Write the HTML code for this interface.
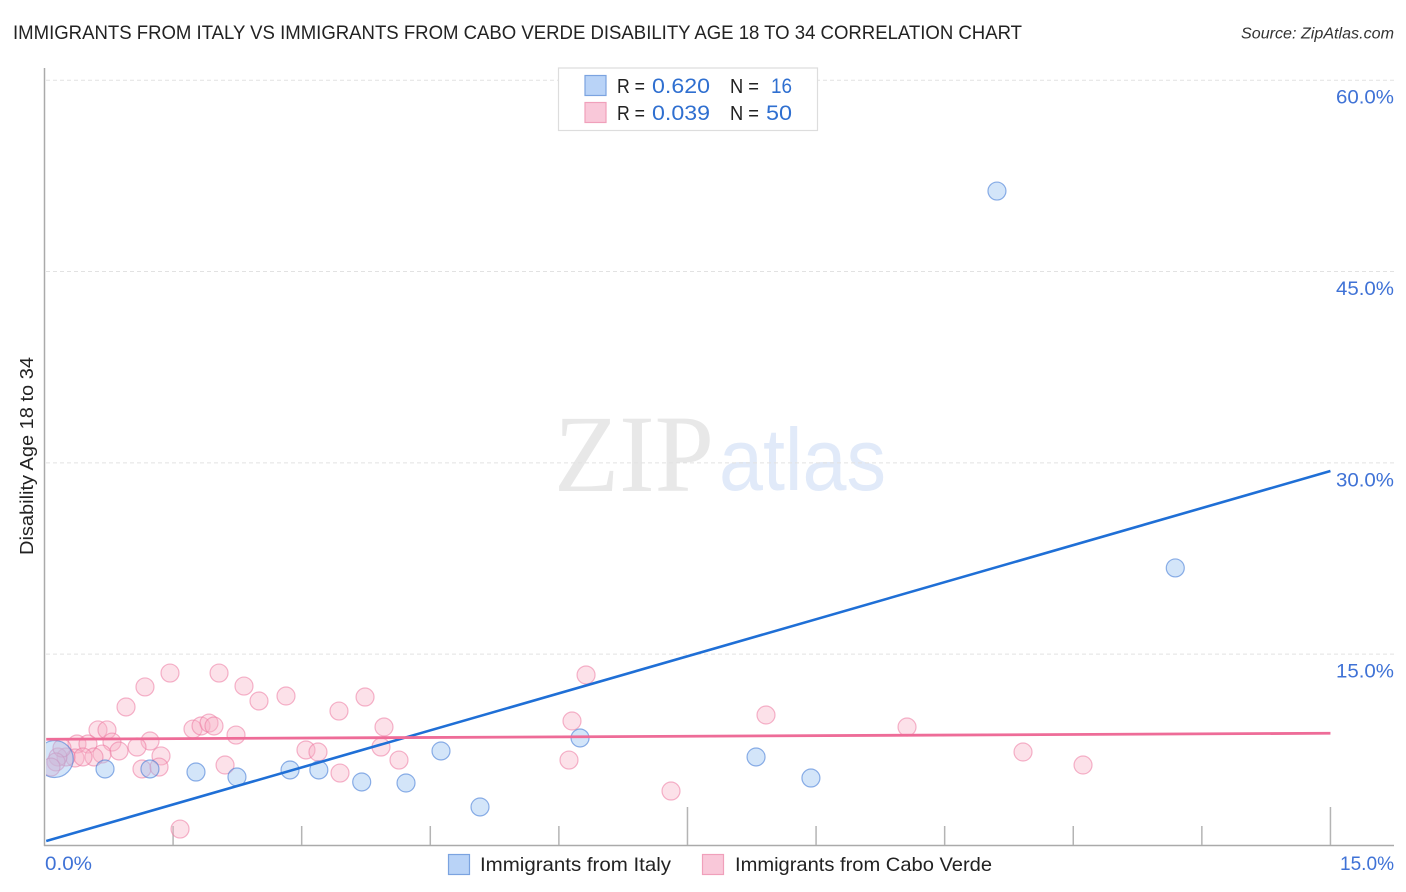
<!DOCTYPE html>
<html lang="en">
<head>
<meta charset="utf-8">
<title>Immigrants from Italy vs Immigrants from Cabo Verde Disability Age 18 to 34 Correlation Chart</title>
<style>
html,body{margin:0;padding:0;background:#fff;}
svg{display:block;font-family:"Liberation Sans",sans-serif;}
</style>
</head>
<body>
<svg id="chart" xmlns="http://www.w3.org/2000/svg" width="1406" height="892" viewBox="0 0 1406 892">
  <defs>
    <clipPath id="plot-clip"><rect x="46" y="60" width="1350" height="785"/></clipPath>
  </defs>
  <rect width="1406" height="892" fill="#fff"/>
  <g>
    <text x="554" y="491" font-family="'Liberation Serif',serif" font-size="110" fill="#e8e8e8" textLength="160" lengthAdjust="spacingAndGlyphs">ZIP</text>
    <text x="719" y="490" font-size="88" fill="#e1eaf9" textLength="167" lengthAdjust="spacingAndGlyphs">atlas</text>
  </g>
  <g id="grid"></g>
  <g id="axes">
    <line x1="44.5" y1="68" x2="44.5" y2="846" stroke="#aaaaaa" stroke-width="1.5"/>
    <line x1="44" y1="845.5" x2="1394" y2="845.5" stroke="#aaaaaa" stroke-width="1.5"/>
  </g>
  <g id="xticks"></g>
  <g id="ylabels"></g>
  <g id="xlabels"></g>
  <g id="pink-dots" clip-path="url(#plot-clip)"></g>
  <g id="blue-dots" clip-path="url(#plot-clip)"></g>
  <g id="trends" clip-path="url(#plot-clip)"></g>

  <text x="13" y="39" font-size="19" fill="#222" textLength="1009" lengthAdjust="spacingAndGlyphs">IMMIGRANTS FROM ITALY VS IMMIGRANTS FROM CABO VERDE DISABILITY AGE 18 TO 34 CORRELATION CHART</text>
  <text x="1241" y="38.5" font-size="15.5" font-style="italic" fill="#333" textLength="153" lengthAdjust="spacingAndGlyphs">Source: ZipAtlas.com</text>
  <text transform="translate(33,555) rotate(-90)" font-size="18.5" fill="#222" textLength="198" lengthAdjust="spacingAndGlyphs">Disability Age 18 to 34</text>

  <g>
    <rect x="558.5" y="68" width="259" height="62.5" fill="#fff" stroke="#dddddd" stroke-width="1.2"/>
    <rect x="585" y="75.5" width="21" height="20" fill="#b9d3f7" stroke="#7ba3e0" stroke-width="1.2"/>
    <rect x="585" y="102.5" width="21" height="20" fill="#f9c8d9" stroke="#f0a0bb" stroke-width="1.2"/>
    <text x="617" y="93" font-size="20" fill="#222" textLength="28" lengthAdjust="spacingAndGlyphs">R =</text>
    <text x="652" y="93" font-size="21" fill="#2f6fd0" textLength="58" lengthAdjust="spacingAndGlyphs">0.620</text>
    <text x="730" y="93" font-size="20" fill="#222" textLength="29" lengthAdjust="spacingAndGlyphs">N =</text>
    <text x="771" y="93" font-size="21" fill="#2f6fd0" textLength="21" lengthAdjust="spacingAndGlyphs">16</text>
    <text x="617" y="120" font-size="20" fill="#222" textLength="28" lengthAdjust="spacingAndGlyphs">R =</text>
    <text x="652" y="120" font-size="21" fill="#2f6fd0" textLength="58" lengthAdjust="spacingAndGlyphs">0.039</text>
    <text x="730" y="120" font-size="20" fill="#222" textLength="29" lengthAdjust="spacingAndGlyphs">N =</text>
    <text x="766" y="120" font-size="21" fill="#2f6fd0" textLength="26" lengthAdjust="spacingAndGlyphs">50</text>
  </g>

  <g>
    <g>
      <rect x="448.5" y="854.5" width="21" height="20" fill="#b9d3f7" stroke="#7ba3e0" stroke-width="1.2"/>
      <text x="480" y="871" font-size="19.5" fill="#222" textLength="191" lengthAdjust="spacingAndGlyphs">Immigrants from Italy</text>
    </g>
    <g>
      <rect x="702.5" y="854.5" width="21" height="20" fill="#f9c8d9" stroke="#f0a0bb" stroke-width="1.2"/>
      <text x="735" y="871" font-size="19.5" fill="#222" textLength="257" lengthAdjust="spacingAndGlyphs">Immigrants from Cabo Verde</text>
    </g>
  </g>
</svg>
<script>
// Chart data (percent values)
const yTickValues = [15, 30, 45, 60];
const xTickValues = [1.5, 3, 4.5, 6, 7.5, 9, 10.5, 12, 13.5, 15];
const xMajorTicks = [7.5, 15];
const xEndLabels = [0, 15];

const italyX = [11.11, 13.19, 0.706, 1.23, 1.767, 2.245, 2.864, 3.20, 3.70, 4.217, 4.625, 5.08, 6.247, 8.30, 8.94, 0.12];
const italyY = [51.31, 21.76, 6.00, 6.00, 5.76, 5.37, 5.92, 5.92, 4.98, 4.90, 7.41, 3.02, 8.43, 6.94, 5.29, 6.78];
const italyWeight = [1, 1, 1, 1, 1, 1, 1, 1, 1, 1, 1, 1, 1, 1, 1, 4.2];

const caboVerdeX = [1.464, 2.036, 1.172, 2.327, 2.502, 2.817, 0.951, 3.435, 3.739, 3.960, 3.925, 4.135, 6.317, 6.153, 6.118, 7.308, 0.624, 0.729, 1.732, 1.826, 1.919, 1.977, 2.234, 1.231, 0.787, 0.379, 0.507, 1.079, 0.869, 0.671, 3.050, 3.190, 1.359, 0.577, 0.356, 0.449, 0.251, 0.157, 0.204, 0.134, 0.076, 1.137, 1.336, 2.106, 3.447, 1.581, 8.416, 10.061, 11.414, 12.114];
const caboVerdeY = [13.52, 13.52, 12.43, 12.50, 11.33, 11.72, 10.86, 10.54, 11.64, 9.29, 7.72, 6.70, 13.37, 9.76, 6.70, 4.27, 9.06, 9.06, 9.13, 9.37, 9.60, 9.37, 8.66, 8.19, 8.11, 7.96, 7.96, 7.72, 7.41, 7.17, 7.49, 7.33, 7.02, 6.94, 6.86, 6.94, 6.94, 6.94, 7.64, 6.55, 6.15, 6.00, 6.15, 6.31, 5.68, 1.29, 10.23, 9.29, 7.33, 6.31];

const trendX = [0.02, 15];
const italyTrendY = [0.35, 29.36];
const caboVerdeTrendY = [8.33, 8.80];

const SVG_NS = 'http://www.w3.org/2000/svg';
function xScale(v) { return 44.5 + v * 85.73; }
function yScale(v) { return 845.5 - v * 12.755; }
function rScale(w) { return 9 * Math.sqrt(w); }
function make(tag, attrs, parent) {
  const el = document.createElementNS(SVG_NS, tag);
  for (const k in attrs) el.setAttribute(k, attrs[k]);
  parent.appendChild(el);
  return el;
}
const grid = document.getElementById('grid');
const ylabels = document.getElementById('ylabels');
yTickValues.forEach(function (v) {
  const line = make('line', { x1: 46, x2: 1394, y1: yScale(v), y2: yScale(v), stroke: '#e2e2e2', 'stroke-width': 1, 'stroke-dasharray': '4 3' }, grid);
  
  
  const t = make('text', { x: 1394, y: yScale(v) + 23.5, 'font-size': 19.5, fill: '#3f72d6', 'text-anchor': 'end', textLength: 58, lengthAdjust: 'spacingAndGlyphs' }, ylabels);
  t.textContent = v.toFixed(1) + '%';
  
  
});
const xticks = document.getElementById('xticks');
xTickValues.forEach(function (v) {
  const major = xMajorTicks.indexOf(v) >= 0;
  const tick = make('line', { x1: xScale(v), x2: xScale(v), y1: major ? 807 : 826, y2: 845, stroke: '#b4b4b4', 'stroke-width': 1.5 }, xticks);
  
  
});
const xlabels = document.getElementById('xlabels');
xEndLabels.forEach(function (v, i) {
  const t = make('text', { x: i === 0 ? 45 : 1394, y: 870, 'font-size': 19.5, fill: '#3f72d6', 'text-anchor': i === 0 ? 'start' : 'end', textLength: i === 0 ? 47 : 54, lengthAdjust: 'spacingAndGlyphs' }, xlabels);
  t.textContent = v.toFixed(1) + '%';
  
  
});
const pinkDots = document.getElementById('pink-dots');
caboVerdeX.forEach(function (v, i) {
  const c = make('circle', { cx: xScale(v), cy: yScale(caboVerdeY[i]), r: rScale(1), fill: 'rgba(248,175,198,0.38)', stroke: 'rgba(236,120,160,0.55)', 'stroke-width': 1.2 }, pinkDots);
  
  
});
const blueDots = document.getElementById('blue-dots');
italyX.forEach(function (v, i) {
  const c = make('circle', { cx: xScale(v), cy: yScale(italyY[i]), r: rScale(italyWeight[i]), fill: 'rgba(150,192,240,0.42)', stroke: 'rgba(70,125,215,0.6)', 'stroke-width': 1.2 }, blueDots);
  
  
});
const trends = document.getElementById('trends');
const italyLine = make('line', { x1: xScale(trendX[0]), x2: xScale(trendX[1]), y1: yScale(italyTrendY[0]), y2: yScale(italyTrendY[1]), stroke: '#1f6fd6', 'stroke-width': 2.6 }, trends);


const caboLine = make('line', { x1: xScale(trendX[0]), x2: xScale(trendX[1]), y1: yScale(caboVerdeTrendY[0]), y2: yScale(caboVerdeTrendY[1]), stroke: '#ee6c98', 'stroke-width': 2.8 }, trends);


</script>
</body>
</html>
